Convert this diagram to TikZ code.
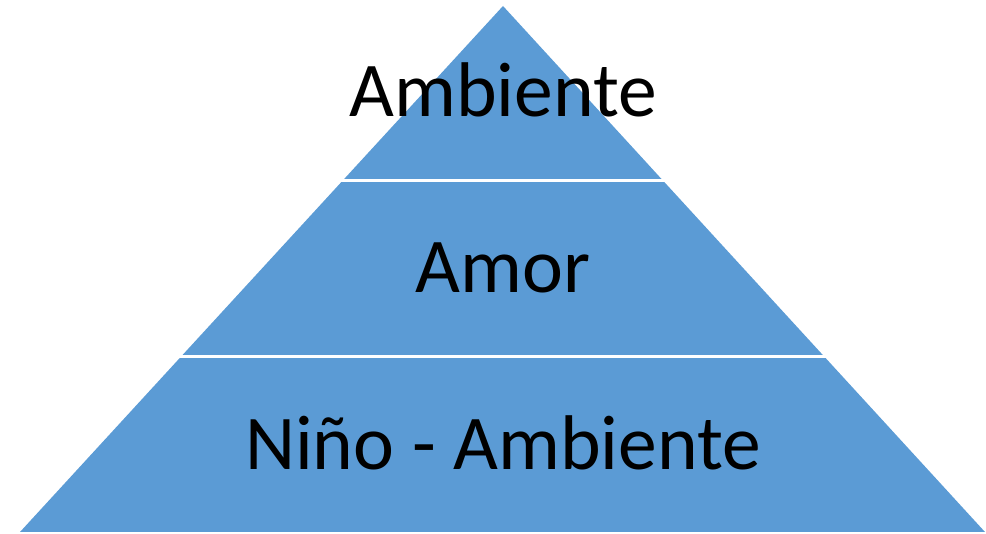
\documentclass[tikz,border=0pt]{standalone}
\usepackage{fontspec}
\setmainfont{Carlito}
\definecolor{pyrblue}{HTML}{5B9BD5}
\begin{document}
\begin{tikzpicture}
    [x=1pt, y=-1pt, every node/.style={font=\fontsize{77.5}{93}\selectfont, anchor=base, inner sep=0pt}]
    \useasboundingbox (0,0) rectangle (986,534);
    % pyramid body
    \coordinate (apex) at (503,6);
    \coordinate (bl) at (20,532);
    \coordinate (br) at (985,532);
    \fill[pyrblue] (apex) -- (bl) -- (br) -- cycle;
    % white gaps between layers
    \draw[white, line width=3pt] (330,181) -- (680,181);
    \draw[white, line width=3pt] (165,357) -- (840,357);
    % labels
    \node (top) at (503,117) {Ambiente};
    \node (mid) at (503,293) {Amor};
    \node (bot) at (503,470) {Niño - Ambiente};
\end{tikzpicture}
\end{document}
